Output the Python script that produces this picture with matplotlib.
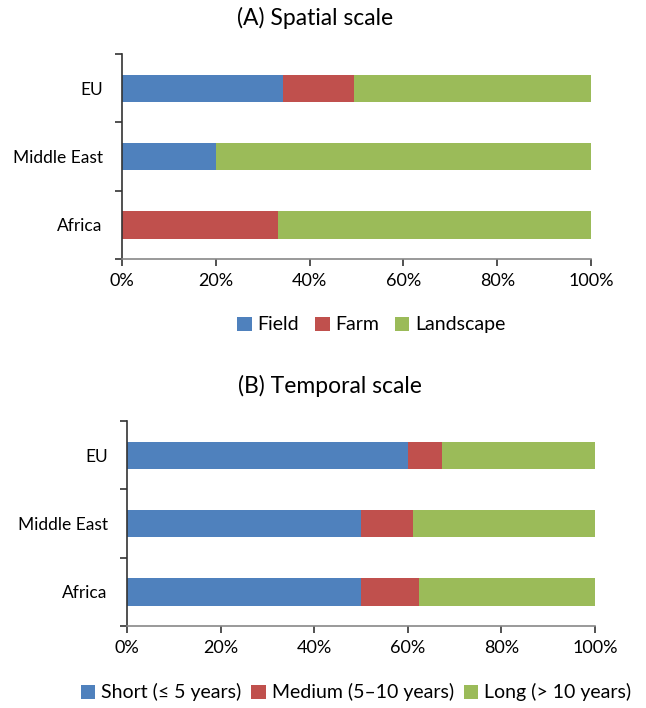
import numpy as np
import matplotlib
matplotlib.use("Agg")
import matplotlib.pyplot as plt
from matplotlib.ticker import PercentFormatter, FixedLocator

plt.rcParams['font.family'] = ['Lato', 'DejaVu Sans']

# Data (percent)
regions = ['EU', 'Middle East', 'Africa']

spatial_labels = ['Field', 'Farm', 'Landscape']
spatial_field = [34.3, 20.0, 0.0]
spatial_farm = [15.1, 0.0, 33.3]
spatial_landscape = [50.6, 80.0, 66.7]

temporal_labels = ['Short (≤ 5 years)', 'Medium (5–10 years)', 'Long (> 10 years)']
temporal_short = [60.1, 50.0, 50.0]
temporal_medium = [7.1, 11.0, 12.4]
temporal_long = [32.8, 39.0, 37.6]

colors = ['#4F81BD', '#C0504D', '#9BBB59']


def draw_panel(ax, series, labels):
    # categories top to bottom, Excel style
    y = np.arange(len(regions))[::-1] + 0.5
    left = np.zeros(len(regions))
    handles = []
    for vals, lab, c in zip(series, labels, colors):
        vals = np.array(vals)
        h = ax.barh(y, vals, left=left, height=0.4, color=c, label=lab)
        handles.append(h)
        left = left + vals
    ax.set_xlim(0, 100)
    ax.set_ylim(0, len(regions))
    ax.xaxis.set_major_locator(FixedLocator([0, 20, 40, 60, 80, 100]))
    ax.xaxis.set_major_formatter(PercentFormatter(decimals=0))
    ax.set_yticks(y)
    ax.set_yticklabels(regions)
    ax.yaxis.set_minor_locator(FixedLocator(np.arange(len(regions) + 1)))
    ax.tick_params(axis='y', which='major', length=0, pad=14, labelsize=12.5)
    ax.tick_params(axis='y', which='minor', length=5, width=1.2, color='#333333')
    ax.tick_params(axis='x', length=5, width=1.2, color='#333333', labelsize=13, pad=5)
    for s in ['top', 'right']:
        ax.spines[s].set_visible(False)
    ax.spines['left'].set_color('#333333')
    ax.spines['bottom'].set_color('#888888')
    ax.spines['left'].set_linewidth(1.2)
    ax.spines['bottom'].set_linewidth(1.2)
    return handles


fig = plt.figure(figsize=(6.46, 7.08), dpi=100)

axA = fig.add_axes([0.189, 0.634, 0.726, 0.2895])
hA = draw_panel(axA, [spatial_field, spatial_farm, spatial_landscape], spatial_labels)
fig.text(0.487, 0.974, '(A) Spatial scale', ha='center', va='center', fontsize=16.5)
fig.legend(hA, spatial_labels, loc='center', bbox_to_anchor=(0.575, 0.541), ncol=3,
           frameon=False, fontsize=14, handlelength=0.75, handleheight=0.75,
           handletextpad=0.3, columnspacing=0.8)

axB = fig.add_axes([0.1966, 0.1158, 0.7245, 0.2895])
hB = draw_panel(axB, [temporal_short, temporal_medium, temporal_long], temporal_labels)
fig.text(0.51, 0.455, '(B) Temporal scale', ha='center', va='center', fontsize=16.5)
fig.legend(hB, temporal_labels, loc='center', bbox_to_anchor=(0.551, 0.022), ncol=3,
           frameon=False, fontsize=14, handlelength=0.75, handleheight=0.75,
           handletextpad=0.3, columnspacing=0.5)

fig.savefig('out.png', dpi=100)
